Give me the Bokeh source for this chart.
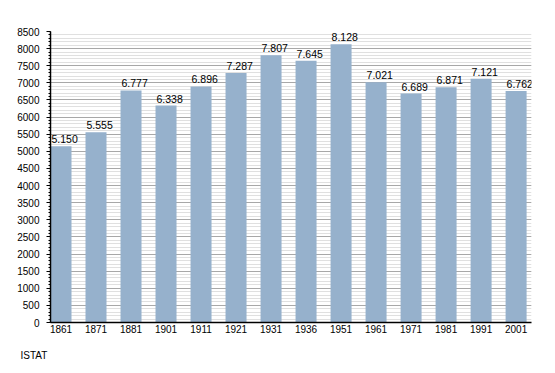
from bokeh.plotting import figure
from bokeh.models import ColumnDataSource, Range1d, FixedTicker, Title
from bokeh.core.properties import value
from bokeh.embed import file_html
from bokeh.resources import INLINE

years = ["1861", "1871", "1881", "1901", "1911", "1921", "1931", "1936",
         "1951", "1961", "1971", "1981", "1991", "2001"]
population = [5150, 5555, 6777, 6338, 6896, 7287, 7807, 7645,
              8128, 7021, 6689, 6871, 7121, 6762]
labels = ["5.150", "5.555", "6.777", "6.338", "6.896", "7.287", "7.807", "7.645",
          "8.128", "7.021", "6.689", "6.871", "7.121", "6.762"]
y_ticks = list(range(0, 8501, 500))
y_minor = list(range(0, 8501, 100))
source_note = "ISTAT"

xs = list(range(len(years)))
bw = 0.6
src = ColumnDataSource(dict(x=xs, top=population, lab=labels,
                            lx=[x - bw / 2 for x in xs]))

p = figure(width=555, height=373, output_backend="svg", toolbar_location=None,
           x_range=Range1d(-bw / 2, len(years) - 1 + bw / 2 + 0.14),
           y_range=Range1d(0, 8500),
           min_border_left=50, min_border_right=24, min_border_top=31,
           min_border_bottom=50)
p.outline_line_color = None
p.background_fill_color = "white"

p.xgrid.visible = False
p.ygrid.ticker = FixedTicker(ticks=y_ticks, minor_ticks=y_minor)
p.ygrid.grid_line_color = "#a8a8a8"
p.ygrid.grid_line_width = 1
p.ygrid.minor_grid_line_color = "#e0e0e0"
p.ygrid.minor_grid_line_width = 1

p.vbar(x="x", top="top", width=bw, bottom=0, source=src,
       fill_color="#96b1cc", line_color=None)
p.text(x="lx", y="top", text="lab", source=src, text_align="left",
       text_baseline="bottom", x_offset=1, y_offset=-3, text_font_size="10.5px",
       text_font=value("Liberation Sans"), text_color="black")

p.xaxis.ticker = FixedTicker(ticks=xs)
p.xaxis.major_label_overrides = {i: y for i, y in enumerate(years)}
p.xaxis.major_tick_line_color = None
p.xaxis.major_tick_out = 0
p.xaxis.major_tick_in = 0
p.xaxis.minor_tick_line_color = None
p.xaxis.minor_tick_out = 0
p.xaxis.axis_line_color = "black"
p.xaxis.axis_line_width = 1.5
p.xaxis.major_label_text_font = "Liberation Sans"
p.xaxis.major_label_text_font_size = "10px"
p.xaxis.major_label_text_color = "black"
p.xaxis.major_label_standoff = 2

p.yaxis.ticker = FixedTicker(ticks=y_ticks, minor_ticks=y_minor)
p.yaxis.axis_line_color = "black"
p.yaxis.axis_line_width = 1.5
p.yaxis.major_tick_out = 4
p.yaxis.major_tick_in = 0
p.yaxis.minor_tick_out = 2
p.yaxis.minor_tick_in = 0
p.yaxis.major_label_text_font = "Liberation Sans"
p.yaxis.major_label_text_font_size = "10px"
p.yaxis.major_label_text_color = "black"
p.yaxis.major_label_standoff = 7

note = Title(text=source_note, align="left", offset=-30, standoff=25,
             text_font="Liberation Sans", text_font_size="10px",
             text_font_style="normal", text_color="black")
p.add_layout(note, "below")

open("out.html", "w").write(file_html(p, INLINE))
